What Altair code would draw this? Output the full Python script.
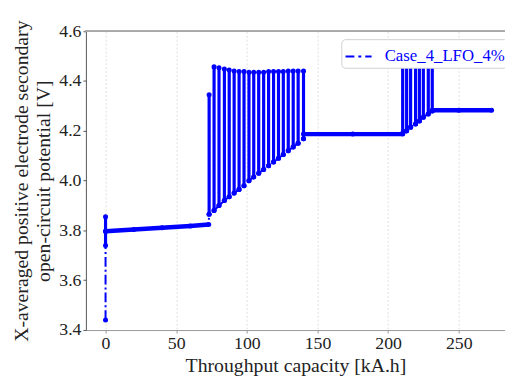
import altair as alt
import pandas as pd

SERIES = "Case_4_LFO_4%"
BLUE = "#0000ff"
FONT = "Liberation Serif"

# ---- data ----
# initial relaxation spike at zero throughput
spike_x = [0.0, 0.0, 0.0, 0.0]
spike_y = [3.44, 3.74, 3.855, 3.797]
# first rest plateau
plat1_x = [0.0, 20.0, 40.0, 60.0, 73.0]
plat1_y = [3.797, 3.804, 3.811, 3.818, 3.824]
# first block of cycles (teeth)
comb1_x = [73.3, 76.8, 80.3, 84.1, 87.5, 91.0, 94.5, 98.0, 101.5, 104.9,
           108.4, 111.9, 115.4, 118.9, 122.4, 125.8, 129.3, 132.8, 136.3, 140.1]
comb1_base = [3.865, 3.88, 3.90, 3.92, 3.935, 3.95, 3.965, 3.98, 4.00, 4.015,
              4.03, 4.045, 4.06, 4.075, 4.09, 4.105, 4.12, 4.135, 4.15, 4.168]
comb1_top = [4.345, 4.457, 4.453, 4.448, 4.444, 4.44, 4.438, 4.438, 4.435, 4.435,
             4.435, 4.435, 4.438, 4.438, 4.438, 4.438, 4.44, 4.44, 4.44, 4.44]
# second rest plateau
plat2_x = [140.1, 175.0, 210.3]
plat2_y = [4.187, 4.187, 4.187]
# second block of cycles
comb2_x = [210.3, 213.1, 215.9, 219.4, 222.1, 224.9, 228.4, 231.2]
comb2_base = [4.19, 4.20, 4.215, 4.228, 4.24, 4.255, 4.268, 4.28]
comb2_top = [4.46, 4.46, 4.46, 4.46, 4.46, 4.46, 4.46, 4.46]
# final rest plateau
plat3_x = [231.2, 250.0, 273.2]
plat3_y = [4.283, 4.283, 4.283]

x_ticks = [0, 50, 100, 150, 200, 250]
y_ticks = [3.4, 3.6, 3.8, 4.0, 4.2, 4.4, 4.6]

# ---- build the ordered path ----
path = []
for x, y in zip(spike_x, spike_y):
    path.append((x, y))
for x, y in zip(plat1_x, plat1_y):
    path.append((x, y))
for x, b, t in zip(comb1_x, comb1_base, comb1_top):
    path += [(x, b), (x, t), (x, b)]
for x, y in zip(plat2_x, plat2_y):
    path.append((x, y))
for x, b, t in zip(comb2_x, comb2_base, comb2_top):
    path += [(x, b), (x, t), (x, b)]
for x, y in zip(plat3_x, plat3_y):
    path.append((x, y))

df = pd.DataFrame(path, columns=["x", "y"])
df["order"] = range(len(df))
df["series"] = SERIES

plat_rows = []
for k, (xs_, ys_) in enumerate([(plat1_x, plat1_y), (plat2_x, plat2_y), (plat3_x, plat3_y)]):
    for x, y in zip(xs_, ys_):
        plat_rows.append({"x": x, "y": y, "seg": k})
plat_df = pd.DataFrame(plat_rows)

teeth_df = pd.DataFrame({
    "x": comb1_x + comb2_x + [spike_x[0]],
    "y": comb1_base + comb2_base + [spike_y[1]],
    "y2": comb1_top + comb2_top + [spike_y[2]],
})

xs = alt.Scale(domain=[-13.9, 282.7], nice=False, zero=False)
ys = alt.Scale(domain=[3.4, 4.6], nice=False, zero=False)

xenc = alt.X("x:Q", scale=xs, axis=alt.Axis(
    values=x_ticks, title="Throughput capacity [kA.h]", format="d",
    domainColor="#999999", tickColor="#999999", tickSize=3, labelPadding=2,
    titlePadding=3, gridColor="#dddddd", gridDash=[2, 2]))
yenc = alt.Y("y:Q", scale=ys, axis=alt.Axis(
    values=y_ticks, format=".1f",
    title=["X-averaged positive electrode secondary", "open-circuit potential [V]"],
    domainColor="#555555", tickColor="#555555", tickSize=3, labelPadding=2,
    titlePadding=5, titleLineHeight=23, gridColor="#dddddd", gridDash=[2, 2]))

line = alt.Chart(df).mark_line(strokeWidth=2, strokeDash=[10, 3, 2, 3]).encode(
    x=xenc, y=yenc, order="order:Q",
    color=alt.Color("series:N", scale=alt.Scale(domain=[SERIES], range=[BLUE]),
                    legend=alt.Legend(
                        title=None, orient="none", legendX=259, legendY=8,
                        symbolType="stroke", symbolDash=[9, 4, 3, 4],
                        symbolStrokeWidth=2, symbolSize=700, symbolStrokeColor=BLUE,
                        labelColor=BLUE, labelFont=FONT, labelFontSize=17,
                        labelOffset=12, padding=3, cornerRadius=4,
                        strokeColor="#d0d0d0", fillColor="white")),
)

teeth = alt.Chart(teeth_df).mark_rule(strokeWidth=3.2, color=BLUE).encode(
    x="x:Q", y="y:Q", y2="y2:Q")

plats = alt.Chart(plat_df).mark_line(strokeWidth=4.5, color=BLUE).encode(
    x="x:Q", y="y:Q", detail="seg:N")

pts = alt.Chart(df).mark_circle(size=26, color=BLUE, opacity=1).encode(
    x="x:Q", y="y:Q")

topline = alt.Chart(df).mark_rule(color="#aaaaaa", strokeWidth=1).encode(
    y=alt.datum(4.6))

chart = alt.layer(topline, line, teeth, plats, pts).properties(
    width=425, height=303,
    autosize=alt.AutoSizeParams(type="none"),
    padding={"left": 79, "top": 21, "right": 0, "bottom": 45},
).configure_view(stroke=None).configure_axis(
    labelFont=FONT, titleFont=FONT, labelFontSize=18, titleFontSize=20,
    labelColor="#222222", titleColor="#222222", titleFontWeight="normal",
).configure_legend(labelLimit=300)

chart.save("out.html", embed_options={"renderer": "svg", "actions": False})
